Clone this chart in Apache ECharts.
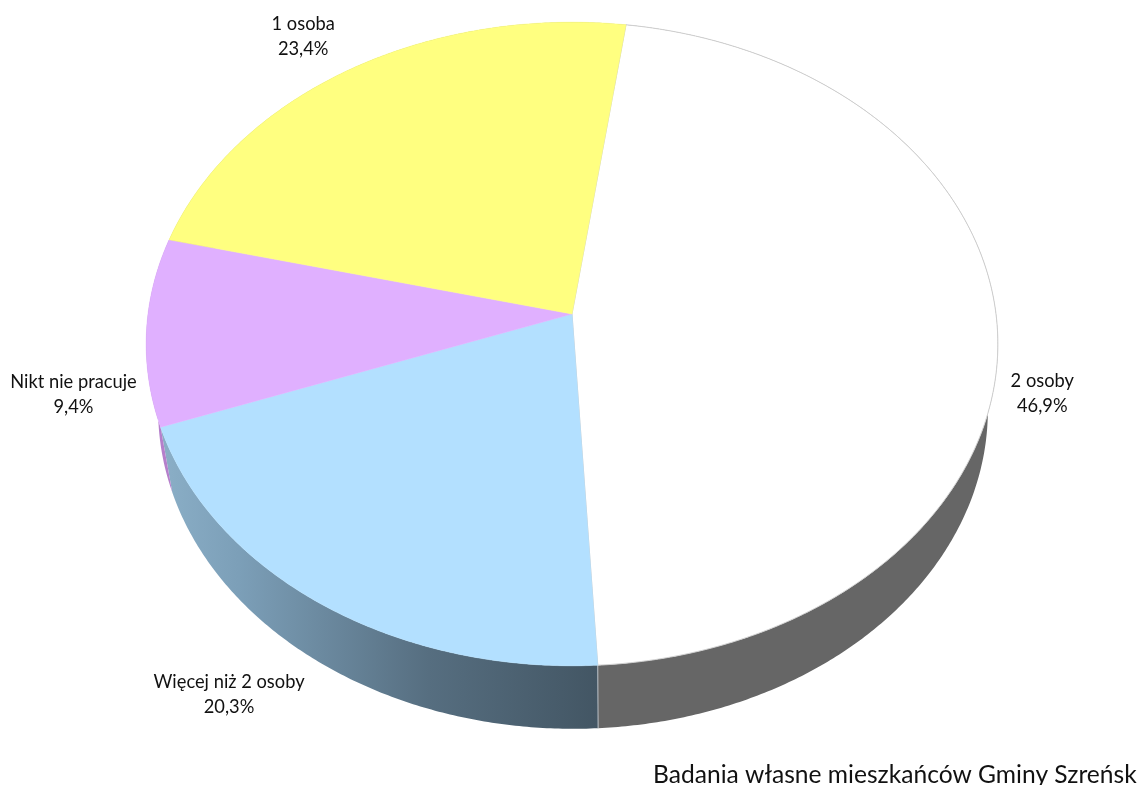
<!DOCTYPE html>
<html><head><meta charset="utf-8">
<style>html,body{margin:0;padding:0;background:#fff}#c{width:1142px;height:785px}</style>
<script src="https://cdn.jsdelivr.net/npm/echarts@6/dist/echarts.min.js"></script>
</head><body><div id="c"></div>
<script>
var categories = ['2 osoby', 'Więcej niż 2 osoby', 'Nikt nie pracuje', '1 osoba'];
var shares = [46.9, 20.3, 9.4, 23.4];
var footerText = 'Badania własne mieszkańców Gminy Szreńsk';

var topColors = ['#FFFFFF', '#B3E0FF', '#E0B0FF', '#FFFF80'];
var sideColors = ['#666666', null, '#B57FCB', '#B5B55A'];
var labelOffsets = [[45, 66], [-90, 92], [-73, 63], [-48, -32]];

var FONT = 'Lato, "Open Sans", sans-serif';
var view = { cx: 572, cy: 314, R: 424, S: 319, k: 0.0932, startDeg: 8,
             ecy: 343, lowCx: 573, lowCy: 409, lowSx: 415 / 426, lowSy: 320 / 323 };

function project(deg) {
  var a = deg * Math.PI / 180, u = Math.sin(a), v = Math.cos(a), d = 1 + view.k * v;
  return [view.cx + view.R * u / d, view.cy - view.S * v / d];
}
function lower(p) {
  return [view.lowCx + (p[0] - view.cx) * view.lowSx, view.lowCy + (p[1] - view.ecy) * view.lowSy];
}
var total = shares.reduce(function (s, x) { return s + x; }, 0);
var bounds = [view.startDeg];
shares.forEach(function (s, i) { bounds.push(bounds[i] + s / total * 360); });

function arc(i) {
  var pts = [], a = bounds[i], b = bounds[i + 1], n = Math.ceil((b - a) * 2);
  for (var j = 0; j <= n; j++) pts.push(project(a + (b - a) * j / n));
  return pts;
}
var blueSide = new echarts.graphic.LinearGradient(165, 0, 597, 0, [
  { offset: 0, color: '#8AAEC6' }, { offset: 0.17, color: '#7C9FB8' },
  { offset: 0.61, color: '#566E80' }, { offset: 1, color: '#435664' }
], true);

function renderSide(params) {
  var i = params.dataIndex, a = arc(i);
  var poly = a.concat(a.slice().reverse().map(lower));
  var kids = [{ type: 'polygon', shape: { points: poly },
    style: { fill: sideColors[i] || blueSide, stroke: null } }];
  if (i === 0) {
    var end = a[a.length - 1];
    kids.push({ type: 'line', z2: 5, shape: { x1: end[0], y1: end[1], x2: lower(end)[0], y2: lower(end)[1] },
      style: { stroke: '#B9C0C6', lineWidth: 1 } });
  }
  return { type: 'group', children: kids };
}
function renderTop(params) {
  var i = params.dataIndex, a = arc(i);
  var poly = [[view.cx, view.cy]].concat(a);
  var mid = project((bounds[i] + bounds[i + 1]) / 2), off = labelOffsets[i];
  return { type: 'group', children: [
    { type: 'polygon', shape: { points: poly },
      style: { fill: topColors[i], stroke: i === 0 ? '#CFCFCF' : topColors[i], lineWidth: i === 0 ? 1 : 0.5, lineJoin: 'round' } },
    { type: 'text', z2: 10, style: {
        x: mid[0] + off[0], y: mid[1] + off[1],
        text: categories[i] + '\n' + shares[i].toFixed(1).replace('.', ',') + '%',
        fill: '#111', font: '18.3px ' + FONT, align: 'center', verticalAlign: 'middle', lineHeight: 25 } }
  ] };
}
var seriesData = shares.map(function (v, i) { return { name: categories[i], value: v }; });
var chart = echarts.init(document.getElementById('c'), null, { renderer: 'canvas' });
chart.setOption({
  animation: false,
  backgroundColor: '#fff',
  title: { text: footerText, left: 653, top: 763,
    textStyle: { fontFamily: FONT, fontSize: 24.6, fontWeight: 'normal', color: '#111' }, padding: 0 },
  series: [
    { type: 'custom', coordinateSystem: 'none', z: 1, renderItem: renderSide, data: seriesData, silent: true },
    { type: 'custom', coordinateSystem: 'none', z: 2, renderItem: renderTop, data: seriesData, silent: true }
  ]
});
</script></body></html>
